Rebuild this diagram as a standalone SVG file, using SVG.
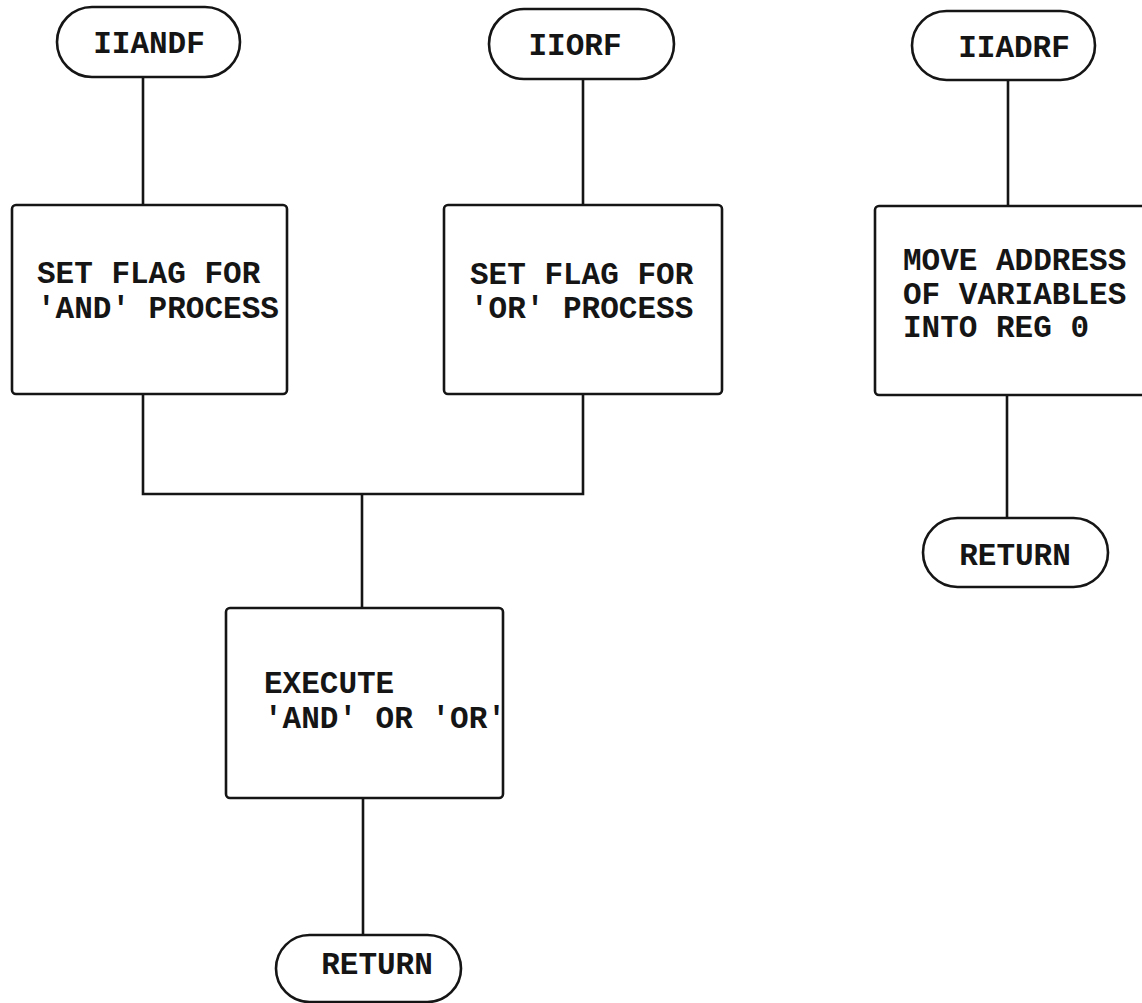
<svg xmlns="http://www.w3.org/2000/svg" width="1142" height="1003" viewBox="0 0 1142 1003">
<style>
.shape{fill:none;stroke:#151515;stroke-width:2.6}
.conn{fill:none;stroke:#151515;stroke-width:2.6}
text{font-family:"Liberation Mono","Courier New",monospace;font-size:31px;fill:#151515;font-weight:bold}
.c{text-anchor:middle}
</style>
<rect width="1142" height="1003" fill="#ffffff"/>
<g id="connectors">
<path class="conn" d="M143 77 V205"/>
<path class="conn" d="M143 394 V494 H583 V394"/>
<path class="conn" d="M583 79 V205"/>
<path class="conn" d="M362 494 V608"/>
<path class="conn" d="M363 798 V935"/>
<path class="conn" d="M1008 80 V206"/>
<path class="conn" d="M1007 395 V518"/>
</g>
<g id="iiandf">
<rect class="shape" x="57" y="7" width="183" height="70" rx="35"/>
<text class="c" x="149" y="53">IIANDF</text>
</g>
<g id="iiorf">
<rect class="shape" x="489" y="9" width="185" height="70" rx="35"/>
<text class="c" x="575" y="55">IIORF</text>
</g>
<g id="iiadrf">
<rect class="shape" x="912" y="11" width="183" height="69" rx="34.5"/>
<text class="c" x="1014" y="57">IIADRF</text>
</g>
<g id="set-and">
<rect class="shape" x="12" y="205" width="275" height="189" rx="4"/>
<text x="37" y="283">SET FLAG FOR</text>
<text x="37" y="318">'AND' PROCESS</text>
</g>
<g id="set-or">
<rect class="shape" x="444" y="205" width="278" height="189" rx="4"/>
<text x="470" y="284">SET FLAG FOR</text>
<text x="470" y="318">'OR' PROCESS</text>
</g>
<g id="move-address">
<rect class="shape" x="875" y="206" width="280" height="189" rx="4"/>
<text x="903" y="270">MOVE ADDRESS</text>
<text x="903" y="304">OF VARIABLES</text>
<text x="903" y="337">INTO REG 0</text>
</g>
<g id="execute">
<rect class="shape" x="226" y="608" width="277" height="190" rx="4"/>
<text x="264" y="693">EXECUTE</text>
<text x="264" y="728">'AND' OR 'OR'</text>
</g>
<g id="return-right">
<rect class="shape" x="923" y="518" width="185" height="69" rx="34.5"/>
<text class="c" x="1015" y="565">RETURN</text>
</g>
<g id="return-bottom">
<rect class="shape" x="276" y="935" width="185" height="67" rx="33.5"/>
<text class="c" x="377" y="974">RETURN</text>
</g>
</svg>
